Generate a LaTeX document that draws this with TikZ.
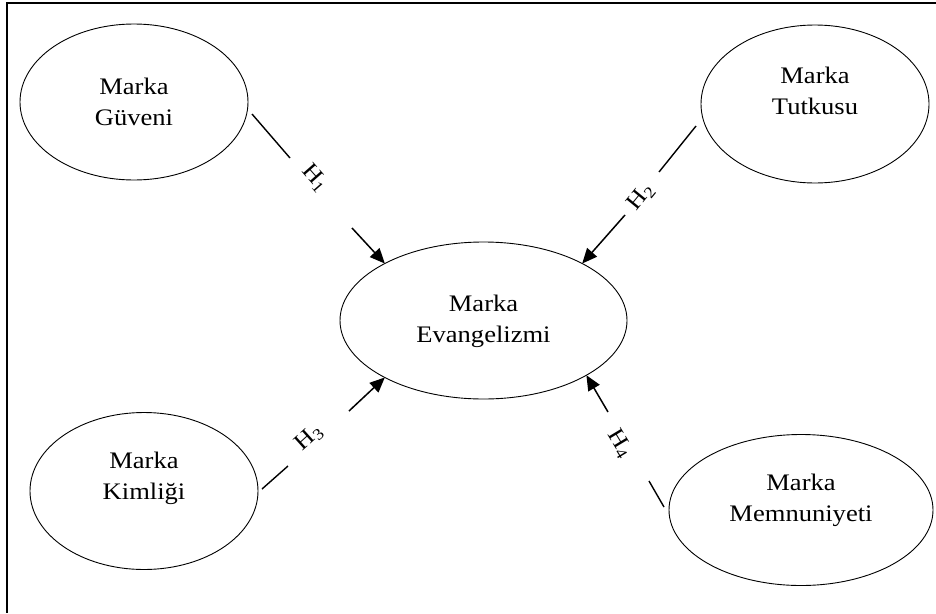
\documentclass[tikz,border=0pt]{standalone}
\usepackage{fontspec}
\setmainfont{Liberation Serif}[FakeStretch=1.12]
\usetikzlibrary{shapes.geometric,arrows.meta}

\begin{document}
\begin{tikzpicture}[x=1pt,y=-1pt,
    yapi/.style={ellipse,draw,line width=0.9pt,inner sep=0pt,outer sep=0pt},
    ad/.style={align=center,inner sep=0pt,font=\fontsize{23.7}{31}\selectfont},
    hip/.style={inner sep=0pt,font=\fontsize{23}{26}\selectfont},
    cizgi/.style={line width=1.4pt},
    oku/.style={line width=1.5pt,-{Triangle[length=15pt,width=13pt]}}]
\useasboundingbox (0,0) rectangle (936,613);
\draw[line width=1.2pt] (936,3)--(7,3)--(7,613);

\node[yapi,minimum width=228pt,minimum height=156pt,
    label={[ad]center:Marka\\Güveni}] (guven) at (134,102) {};
\node[yapi,minimum width=228pt,minimum height=158pt,
    label={[ad,yshift=13pt]center:Marka\\Tutkusu}] (tutku) at (815,104) {};
\node[yapi,minimum width=287pt,minimum height=157pt,
    label={[ad,yshift=-1pt]center:Marka\\Evangelizmi}] (evang) at (483.5,320.5) {};
\node[yapi,minimum width=228pt,minimum height=157pt,
    label={[ad,yshift=13pt]center:Marka\\Kimliği}] (kimlik) at (144,491) {};
\node[yapi,minimum width=264pt,minimum height=151pt,
    label={[ad,yshift=10pt]center:Marka\\Memnuniyeti}] (memnun) at (801,510) {};

\coordinate (a1) at (252,114); \coordinate (a2) at (290,158); \coordinate (a3) at (352,228);
\coordinate (b1) at (696,126); \coordinate (b2) at (659,172); \coordinate (b3) at (625,215);
\coordinate (c1) at (262,489); \coordinate (c2) at (288,466); \coordinate (c3) at (349,411);
\coordinate (d1) at (664,507); \coordinate (d2) at (649,481); \coordinate (d3) at (608,412);

\draw[cizgi] (a1)--(a2);
\draw[oku] (a3)--(evang.150);
\node[hip,rotate=-48.7] (h1) at (315,178) {H\textsubscript{1}};
\draw[cizgi] (b1)--(b2);
\draw[oku] (b3)--(evang.30);
\node[hip,rotate=50.8] (h2) at (641,197) {H\textsubscript{2}};
\draw[cizgi] (c1)--(c2);
\draw[oku] (c3)--(evang.-150);
\node[hip,rotate=42] (h3) at (309,438) {H\textsubscript{3}};
\draw[cizgi] (d1)--(d2);
\draw[oku] (d3)--(evang.-28);
\node[hip,rotate=-59] (h4) at (620,444) {H\textsubscript{4}};
\end{tikzpicture}
\end{document}
